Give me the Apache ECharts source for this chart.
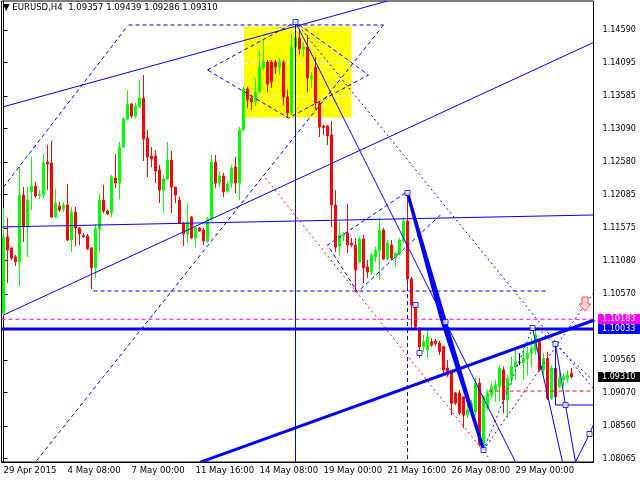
<!DOCTYPE html>
<html><head><meta charset="utf-8">
<script src="https://cdn.jsdelivr.net/npm/echarts@6/dist/echarts.min.js"></script>
<style>html,body{margin:0;padding:0;background:#fff}#c{width:640px;height:480px}</style>
</head><body><div id="c"></div>
<script>
const symbol = 'EURUSD', period = 'H4';
const timeLabels = ['29 Apr 2015','4 May 08:00','7 May 00:00','11 May 16:00','14 May 08:00','19 May 00:00','21 May 16:00','26 May 08:00','29 May 00:00'];
const priceTicks = [1.14590,1.14095,1.13585,1.13090,1.12580,1.12085,1.11575,1.11080,1.10570,1.09565,1.09070,1.08560,1.08065];
const priceMin = 1.080086, priceMax = 1.150318;
const slotCount = 148;

const open = [1.10279,1.11436,1.11269,1.11132,1.11056,1.12076,1.11589,1.12122,1.12213,1.12069,
1.12076,1.12579,1.12564,1.11741,1.11909,1.11863,1.11924,1.11391,1.11817,1.11574,
1.11459,1.11452,1.11269,1.10964,1.11558,1.12000,1.11833,1.11802,1.12335,1.12259,
1.12808,1.13234,1.13462,1.13280,1.13417,1.13554,1.12944,1.12670,1.12670,1.12457,
1.12152,1.12320,1.12610,1.12198,1.12000,1.11650,1.11482,1.11741,1.11421,1.11574,
1.11543,1.11375,1.11711,1.12579,1.12259,1.12366,1.12137,1.12259,1.12503,1.12259,
1.13067,1.13691,1.13554,1.13493,1.13645,1.14011,1.14102,1.14102,1.14102,1.14026,
1.14102,1.13569,1.13325,1.14331,1.14468,1.14301,1.14331,1.13859,1.14026,1.13478,
1.13128,1.13128,1.12990,1.11924,1.11299,1.11452,1.11497,1.11345,1.11315,1.11056,
1.11406,1.10980,1.10903,1.11132,1.11223,1.11543,1.11101,1.11315,1.11116,1.11177,
1.11375,1.11680,1.10797,1.10400,1.10020,1.09765,1.09715,1.09841,1.09852,1.09817,
1.09765,1.09441,1.09384,1.09060,1.09060,1.09003,1.08724,1.08775,1.08775,1.09208,
1.08242,1.08831,1.09029,1.09105,1.09156,1.09410,1.08953,1.09283,1.09461,1.09525,
1.09525,1.09586,1.09662,1.09715,1.09841,1.09410,1.09586,1.08979,1.09436,1.09156,
1.09258,1.09283,1.09357];
const close = [1.11436,1.11238,1.11116,1.11056,1.12076,1.11589,1.12000,1.12213,1.12061,1.12084,
1.12564,1.12549,1.11741,1.11954,1.11848,1.11924,1.11391,1.11817,1.11574,1.11482,
1.11441,1.11254,1.10964,1.11558,1.12000,1.11833,1.11787,1.12350,1.12259,1.12808,
1.13234,1.13462,1.13280,1.13432,1.13554,1.12929,1.12655,1.12625,1.12442,1.12152,
1.12320,1.12610,1.12198,1.12076,1.11650,1.11482,1.11665,1.11421,1.11574,1.11528,
1.11375,1.11711,1.12579,1.12259,1.12366,1.12122,1.12244,1.12488,1.12259,1.13067,
1.13691,1.13524,1.13493,1.13645,1.14026,1.14102,1.13767,1.13798,1.14026,1.14102,
1.13569,1.13325,1.14331,1.14468,1.14301,1.14331,1.13859,1.13889,1.13478,1.13112,
1.13105,1.12975,1.11924,1.11284,1.11467,1.11482,1.11315,1.11315,1.10934,1.11406,
1.10964,1.10903,1.11162,1.11238,1.11543,1.11101,1.11345,1.11116,1.11193,1.11391,
1.11680,1.10797,1.10400,1.10065,1.09761,1.09841,1.09913,1.09791,1.09817,1.09689,
1.09410,1.09334,1.08902,1.08907,1.08755,1.08724,1.08801,1.08902,1.09208,1.08293,
1.09003,1.09060,1.09156,1.09182,1.09436,1.08953,1.09283,1.09461,1.09537,1.09525,
1.09586,1.09662,1.09738,1.09944,1.09410,1.09586,1.08979,1.09436,1.09003,1.09283,
1.09308,1.09334,1.09310];
const high = [1.11878,1.11726,1.11284,1.11162,1.12503,1.12198,1.12198,1.12655,1.12274,1.12152,
1.12701,1.12838,1.12899,1.12168,1.11970,1.11970,1.12244,1.11893,1.11893,1.11589,
1.11497,1.11482,1.11284,1.11634,1.12091,1.12229,1.11848,1.12381,1.12701,1.12884,
1.13264,1.13676,1.13478,1.13478,1.13828,1.13904,1.13067,1.12808,1.12762,1.12533,
1.12381,1.12884,1.12747,1.12198,1.12046,1.11665,1.11954,1.11756,1.11589,1.11589,
1.11574,1.11741,1.12686,1.12686,1.12427,1.12411,1.12289,1.12533,1.12655,1.13112,
1.13722,1.13722,1.13600,1.13859,1.14285,1.14438,1.14133,1.14133,1.14133,1.14163,
1.14133,1.13676,1.14544,1.14670,1.14600,1.14407,1.14514,1.13950,1.14179,1.13493,
1.13143,1.13143,1.13203,1.12152,1.11665,1.11513,1.11939,1.11421,1.11421,1.11436,
1.11467,1.11086,1.11193,1.11284,1.11726,1.11574,1.11391,1.11391,1.11208,1.11421,
1.11741,1.12107,1.10827,1.10431,1.10065,1.09944,1.10020,1.09898,1.09882,1.09852,
1.09776,1.09563,1.09384,1.09075,1.09105,1.09003,1.08927,1.08953,1.09288,1.09288,
1.09029,1.09105,1.09212,1.09258,1.09486,1.09461,1.09334,1.09614,1.09715,1.09669,
1.09746,1.09765,1.09898,1.10050,1.09867,1.09669,1.09689,1.09486,1.09822,1.09384,
1.09369,1.09410,1.09439];
const low = [1.10233,1.10736,1.11086,1.10995,1.10690,1.11360,1.11132,1.11848,1.12031,1.12015,
1.12031,1.12152,1.11734,1.11726,1.11817,1.11817,1.11375,1.11208,1.11299,1.11315,
1.11421,1.11238,1.10644,1.10812,1.11193,1.11802,1.11772,1.11741,1.12183,1.12015,
1.12793,1.13219,1.13249,1.13249,1.13402,1.12594,1.12350,1.12503,1.12259,1.11954,
1.11802,1.12305,1.11802,1.11954,1.11634,1.11299,1.11345,1.11406,1.11284,1.11513,
1.11315,1.11345,1.11680,1.12183,1.12198,1.12046,1.12107,1.12183,1.12107,1.12000,
1.13051,1.13402,1.13371,1.13432,1.13630,1.13981,1.13645,1.13706,1.13920,1.13904,
1.13447,1.13249,1.13295,1.14240,1.14209,1.14179,1.13645,1.13706,1.13371,1.12960,
1.12990,1.12838,1.11589,1.11208,1.11162,1.11375,1.11193,1.11284,1.10598,1.11040,
1.10736,1.10812,1.10858,1.11056,1.10781,1.11086,1.11086,1.11086,1.10980,1.11162,
1.11345,1.10675,1.10050,1.10020,1.09593,1.09689,1.09593,1.09761,1.09776,1.09639,
1.09334,1.09304,1.08724,1.08877,1.08724,1.08526,1.08679,1.08724,1.08724,1.08242,
1.08191,1.08801,1.08984,1.08927,1.08927,1.08750,1.08674,1.09182,1.09258,1.09486,
1.09258,1.09334,1.09461,1.09639,1.09384,1.09334,1.08953,1.08953,1.08877,1.09131,
1.09156,1.09212,1.09286];
const dojiIndex = [129];

// analyst objects: [bar index, price]
const levelMagenta = 1.10183, levelBlue = 1.10033;
const yellowBox = [[60.1, 1.14643], [87, 1.13257]];
const boxLevels = [1.14590, 1.14083, 1.13584];
const boxFan = [[[73,1.14666],[87,1.14083]], [[73,1.14666],[87,1.13569]], [[73,1.14666],[85,1.13264]], [[78.5,1.13264],[87,1.14133]]];
const thinSolid = [
  [[0,1.13421],[96,1.15032]],
  [[-0.5,1.11589],[147.5,1.11772]],
  [[0,1.10248],[147.75,1.14407]],
  [[73,1.14712],[128,1.08008]],
  [[73,1.14712],[73,1.08008]],
  [[132.25,1.10050],[139.75,1.08008]],
  [[138,1.09806],[140.5,1.08877],[143,1.08008]],
  [[143,1.08008],[146.5,1.08435],[148.5,1.08724]],
  [[138,1.09806],[138,1.08877],[147.75,1.08877]]
];
const thickSolid = [
  [[-0.5,levelBlue],[147.5,levelBlue]],
  [[49.25,1.08008],[147.75,1.10172]],
  [[101,1.12107],[110.5,1.10141],[120,1.08191]],
  [[101,1.12107],[109.25,1.10233],[120,1.08191]]
];
const blueDashed = [
  [[31.25,1.14666],[95,1.14666]],
  [[0,1.12198],[31,1.14651]],
  [[95,1.14666],[8,1.08008]],
  [[51,1.13981],[73,1.14712],[91.25,1.13904],[71.25,1.13249],[51,1.13981]],
  [[22.5,1.10613],[136,1.10613]],
  [[100.5,1.12107],[81,1.11315],[88.5,1.10598],[109.25,1.11772]],
  [[101,1.10781],[101,1.08008]]
];
const blueDotted = [
  [[73,1.14712],[147.75,1.09105]],
  [[120,1.08191],[148.5,1.10675]],
  [[120,1.08191],[132.25,1.10050]],
  [[133.5,1.10050],[146.75,1.09288]]
];
const redDotted = [[65.5,1.12335],[121.75,1.08039]];
const redDashed = [[121.25,1.09090],[147.75,1.09090]];
const anchors = [[73,1.14712],[101,1.12107],[103,1.10400],[104,1.09669],[110.5,1.10141],[120,1.08191],[132.25,1.10050],[138,1.09806],[140.5,1.08877],[146.5,1.08435]];
const arrowMark = [145.25, 1.10415];

const FONT = '"DejaVu Sans Condensed", "DejaVu Sans", sans-serif';
const categories = Array.from({length: slotCount}, (_, i) => i % 16 === 0 ? (timeLabels[i / 16] || '') : '');
const candleData = open.map((o, i) => {
  const v = [o, close[i], low[i], high[i]];
  return dojiIndex.includes(i) ? {value: v, itemStyle: {color:'#000', color0:'#000', borderColor:'#000', borderColor0:'#000'}} : v;
});
function line(data, color, width, type, z) {
  return {type:'line', xAxisIndex:1, yAxisIndex:0, data, symbol:'none', silent:true, clip:true,
    lineStyle:{color, width, type}, z: z || 4, animation:false};
}
const series = [];
series.push({type:'line', xAxisIndex:1, yAxisIndex:0, data: yellowBox, symbol:'none', lineStyle:{opacity:0}, z:1, silent:true,
  markArea:{silent:true, itemStyle:{color:'#ffff00'}, data:[[{coord: yellowBox[0]}, {coord: yellowBox[1]}]]}});
boxLevels.forEach(v => series.push(line([[yellowBox[0][0], v], [yellowBox[1][0], v]], '#ffffff', 1, [4,3], 2)));
boxFan.forEach(d => series.push(line(d, '#ffffff', 1, [2,2], 2)));
series.push({type:'candlestick', xAxisIndex:0, yAxisIndex:0, data: candleData, barWidth:2, z:3, silent:true,
  itemStyle:{color:'#00ff00', color0:'#ff0000', borderColor:'#00ff00', borderColor0:'#ff0000', borderWidth:1}});
series.push(line([[-0.5, levelMagenta],[147.5, levelMagenta]], '#ff00ff', 1, [4,3]));
thinSolid.forEach(d => series.push(line(d, '#0000ff', 1, 'solid')));
thickSolid.forEach(d => series.push(line(d, '#0000ff', 3, 'solid')));
blueDashed.forEach(d => series.push(line(d, '#0000ff', 1, [4,3])));
blueDotted.forEach(d => series.push(line(d, '#0000ff', 1, [2,3])));
series.push(line(redDotted, '#ff0000', 1, [2,3]));
series.push(line(redDashed, '#ff0000', 1, [4,3]));
series.push({type:'scatter', xAxisIndex:1, yAxisIndex:0, data: anchors, symbol:'rect', symbolSize:5, silent:true, z:6,
  itemStyle:{color:'#ffffff', borderColor:'#0000ff', borderWidth:1}});
const scatterIndex = series.length - 1;

const chart = echarts.init(document.getElementById('c'), null, {renderer:'canvas'});
chart.setOption({
  animation:false,
  backgroundColor:'#ffffff',
  title:{text:`▼ ${symbol},${period}  ${open.at(-1).toFixed(5)} ${high.at(-1).toFixed(5)} ${low.at(-1).toFixed(5)} ${close.at(-1).toFixed(5)}`,
    left:3, top:3, padding:0, textStyle:{fontSize:9.5, fontWeight:'normal', color:'#000', fontFamily:FONT}},
  grid:{left:1.5, right:46.5, top:1, bottom:18, show:true, borderColor:'#000', borderWidth:1, backgroundColor:'#fff'},
  xAxis:[
    {type:'category', data:categories, boundaryGap:true,
      axisLine:{lineStyle:{color:'#000'}},
      axisTick:{alignWithLabel:true, interval:15, length:4, lineStyle:{color:'#000'}},
      axisLabel:{interval:15, align:'left', fontSize:9.5, margin:4, color:'#000', fontFamily:FONT},
      splitLine:{show:false}},
    {type:'value', min:-0.5, max:slotCount - 0.5, show:false}
  ],
  yAxis:[{type:'value', position:'right', min:priceMin, max:priceMax,
    splitLine:{show:false},
    axisLine:{show:true, lineStyle:{color:'#000'}},
    axisTick:{show:true, customValues:priceTicks, length:4, lineStyle:{color:'#000'}},
    axisLabel:{customValues:priceTicks, formatter:v => v.toFixed(5), fontSize:9, margin:9, color:'#000', fontFamily:FONT}}],
  series
});

const yPix = v => chart.convertToPixel({yAxisIndex:0}, v);
const tags = [{v:levelMagenta, bg:'#ff00ff'}, {v:levelBlue, bg:'#0000ff'}, {v:close.at(-1), bg:'#000000'}];
const graphics = [];
tags.forEach(t => {
  const y = Math.round(yPix(t.v));
  graphics.push({type:'rect', shape:{x:598, y:y-5, width:42, height:10}, style:{fill:t.bg}, z:100});
  graphics.push({type:'text', x:602, y:y, style:{text:t.v.toFixed(5), fill:'#fff', font:'9px ' + FONT, verticalAlign:'middle'}, z:101});
});
const ap = chart.convertToPixel({seriesIndex:scatterIndex}, arrowMark);
const ax = Math.round(ap[0]), ay = Math.round(ap[1]);
graphics.push({type:'polygon', shape:{points:[[ax-3,ay-7],[ax+3,ay-7],[ax+3,ay],[ax+6,ay],[ax,ay+7],[ax-6,ay],[ax-3,ay]]},
  style:{fill:'#ffd6d6', stroke:'#ff5050', lineWidth:1}, z:100});
chart.setOption({graphic:graphics});
</script></body></html>
